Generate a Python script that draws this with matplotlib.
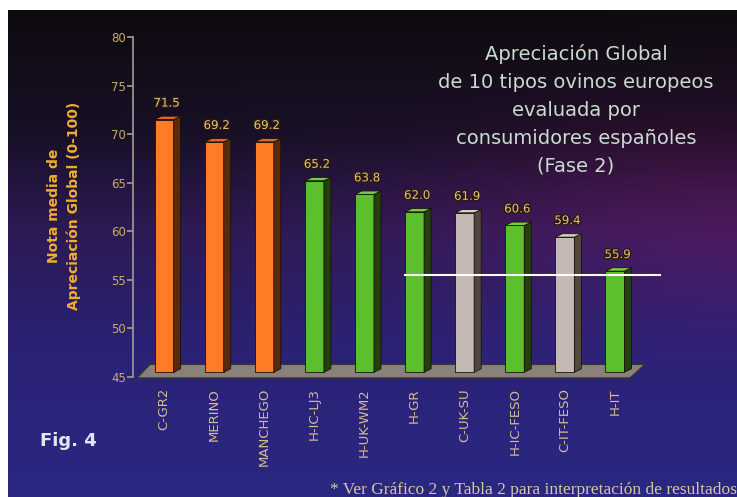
"""
Fig. 4 - Apreciación Global de 10 tipos ovinos europeos (Fase 2)
Bar chart with a fake 3D look on a dark gradient background.
"""
import numpy as np
import matplotlib
matplotlib.use("Agg")
import matplotlib.pyplot as plt
from matplotlib.patches import Polygon
import matplotlib.patheffects as pe

# --- data ---
tipos = ["C-GR2", "MERINO", "MANCHEGO", "H-IC-LJ3", "H-UK-WM2",
         "H-GR", "C-UK-SU", "H-IC-FESO", "C-IT-FESO", "H-IT"]
nota = [71.5, 69.2, 69.2, 65.2, 63.8, 62.0, 61.9, 60.6, 59.4, 55.9]
grupo = ["o", "o", "o", "g", "g", "g", "s", "g", "s", "g"]
yticks = [45, 50, 55, 60, 65, 70, 75, 80]

titulo = ("Apreciación Global\nde 10 tipos ovinos europeos\nevaluada por\n"
          "consumidores españoles\n(Fase 2)")
ylabel = "Nota media de\nApreciación Global (0-100)"
nota_pie = "* Ver Gráfico 2 y Tabla 2 para interpretación de resultados"

# front / side / top colours per group
COLORS = {
    "o": ("#ff7b26", "#5a2a0e", "#e8622a"),
    "g": ("#5cbf2c", "#24400e", "#74cf3e"),
    "s": ("#c4b9b4", "#52483f", "#d6cec9"),
}
W, H = 737, 497


def _background(fig):
    bg = fig.add_axes([8 / W, 0, 1 - 8 / W, 1 - 10 / H], zorder=-10)
    ny, nx = 200, 300
    yy = np.linspace(0, 1, ny)[:, None]
    xx = np.linspace(0, 1, nx)[None, :]
    # vertical stops: near black at top to blue-violet at bottom
    stops = np.array([0.0, 0.25, 0.45, 0.7, 1.0])
    cols = np.array([[14, 11, 15], [24, 16, 38], [44, 26, 84],
                     [42, 34, 118], [42, 40, 130]]) / 255.0
    img = np.zeros((ny, nx, 3))
    for c in range(3):
        img[:, :, c] = np.interp(yy[:, 0], stops, cols[:, c])[:, None]
    # magenta glow on the right middle
    glow = np.exp(-(((xx - 1.0) / 0.4) ** 2 + ((yy - 0.42) / 0.22) ** 2))
    img[:, :, 0] += 0.12 * glow
    img[:, :, 2] += 0.04 * glow
    bg.imshow(np.clip(img, 0, 1), aspect="auto", extent=(0, 1, 1, 0))
    bg.set_axis_off()


def main():
    fig = plt.figure(figsize=(W / 100, H / 100), dpi=100, facecolor="white")
    _background(fig)

    ax = fig.add_axes([133 / W, 120 / H, 507 / W, 340 / H])
    ax.set_facecolor("none")
    ax.set_xlim(-0.62, 9.5)
    ax.set_ylim(45, 80)

    # floor
    floor = Polygon([(-0.54, 44.9), (9.3, 44.9), (9.6, 46.3), (-0.28, 46.3)],
                    closed=True, facecolor="#8a827a", edgecolor="#3a3430",
                    lw=1.0, clip_on=False, zorder=1)
    ax.add_patch(floor)

    hw, dx, dy, base = 0.19, 0.14, 0.35, 45.5
    x = np.arange(len(tipos))
    for xi, v, g in zip(x, nota, grupo):
        front, side, top = COLORS[g]
        ax.bar(xi, v - base, bottom=base, width=2 * hw, color=front,
               edgecolor="#1a1208", lw=0.6, zorder=3)
        ax.add_patch(Polygon([(xi + hw, base), (xi + hw + dx, base + dy),
                              (xi + hw + dx, v + dy), (xi + hw, v)],
                             facecolor=side, edgecolor="#1a1208", lw=0.6,
                             zorder=3))
        ax.add_patch(Polygon([(xi - hw, v), (xi + hw, v),
                              (xi + hw + dx, v + dy), (xi - hw + dx, v + dy)],
                             facecolor=top, edgecolor="#1a1208", lw=0.6,
                             zorder=4))
        ax.text(xi + 0.05, v + 1.7, f"{v:.1f}", ha="center", va="center",
                fontsize=8.5, color="#e8c07a", zorder=5,
                path_effects=[pe.withStroke(linewidth=2, foreground="#2a1a10")])

    for s in ["top", "right", "bottom"]:
        ax.spines[s].set_visible(False)
    ax.spines["left"].set_color("#a49c92")
    ax.spines["left"].set_linewidth(1.2)

    ax.set_yticks(yticks)
    ax.tick_params(axis="y", colors="#a49c92", length=4, width=1.2, pad=1,
                   labelsize=8.5, labelcolor="#c8ac6a")
    ax.set_xticks(x)
    ax.set_xticklabels(tipos, rotation=90, fontsize=9.5, color="#d6bd8c",
                       va="top", ha="center")
    ax.tick_params(axis="x", length=0, pad=8)

    fig.text(64 / W, 1 - 206 / H, ylabel, rotation=90, ha="center",
             va="center", fontsize=10, fontweight="bold", color="#f0ae2e",
             linespacing=1.55, multialignment="center")
    fig.text(576 / W, 1 - 110 / H, titulo, ha="center", va="center",
             fontsize=14, color="#c8dccf", linespacing=1.6,
             multialignment="center")
    fig.text(40 / W, 1 - 441 / H, "Fig. 4", ha="left", va="center",
             fontsize=13, fontweight="bold", color="#e6e6f2")
    fig.text(330 / W, 1 - 490 / H, nota_pie, ha="left", va="center",
             fontsize=12.5, color="#d8c8a0", family="Liberation Serif")

    # scan artefacts in the original: white streak
    fig.add_artist(plt.Line2D([405 / W, 660 / W], [1 - 275 / H, 1 - 275 / H],
                              color="white", lw=1.5))

    fig.savefig("out.png", dpi=100, facecolor=fig.get_facecolor())


if __name__ == "__main__":
    main()
